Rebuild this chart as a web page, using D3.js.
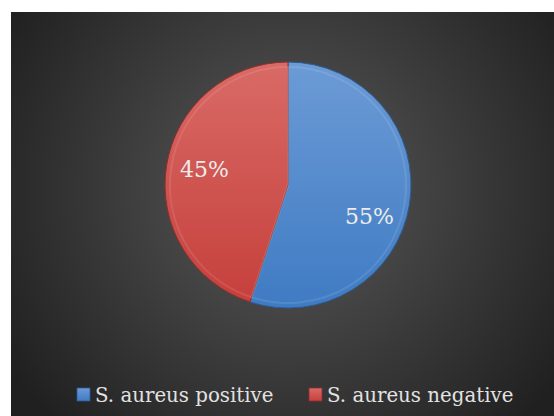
<!DOCTYPE html>
<html><head><meta charset="utf-8">
<script src="https://cdn.jsdelivr.net/npm/d3@7"></script>
<style>html,body{margin:0;padding:0;background:#fff;}svg{display:block;}</style>
</head><body>
<script>
const categories = ["S. aureus positive", "S. aureus negative"];
const values = [55, 45];
const labels = ["55%", "45%"];

const W = 554, H = 416;
const svg = d3.select("body").append("svg").attr("width", W).attr("height", H);
const defs = svg.append("defs");

const bg = defs.append("radialGradient").attr("id","bg").attr("gradientUnits","userSpaceOnUse")
  .attr("cx", 288).attr("cy", 190).attr("r", 330);
bg.append("stop").attr("offset","0%").attr("stop-color","#5a5a5a");
bg.append("stop").attr("offset","100%").attr("stop-color","#202020");

svg.append("rect").attr("x",11).attr("y",12).attr("width",W-11).attr("height",H-12).attr("fill","url(#bg)");

const cx = 288, cy = 185, R = 123;
const fills = [["#6c9bd6","#3f7bc3"],["#d96a66","#c6403c"]];
fills.forEach((f,i)=>{
  const g = defs.append("linearGradient").attr("id","g"+i).attr("x1",0).attr("y1",0).attr("x2",0).attr("y2",1);
  g.append("stop").attr("offset","0%").attr("stop-color",f[0]);
  g.append("stop").attr("offset","100%").attr("stop-color",f[1]);
});
const edges = ["#2d5b93","#8e2e2b"];

const pie = d3.pie().sort(null).value(d=>d)(values);
const arc = d3.arc().innerRadius(0).outerRadius(R);
const inner = d3.arc().innerRadius(0).outerRadius(R-5);
const labelArc = d3.arc().innerRadius(R*0.72).outerRadius(R*0.72);
const nudge = [[-6,18],[4,-2]];

const gp = svg.append("g").attr("transform",`translate(${cx},${cy})`);
gp.selectAll("path.s").data(pie).enter().append("path")
  .attr("d", arc).attr("fill",(d,i)=>`url(#g${i})`)
  .attr("stroke",(d,i)=>edges[i]).attr("stroke-width",1);
gp.selectAll("path.b").data(pie).enter().append("path")
  .attr("d", inner).attr("fill","none")
  .attr("stroke","rgba(255,255,255,0.10)").attr("stroke-width",2);

gp.selectAll("text").data(pie).enter().append("text")
  .attr("transform",(d,i)=>{const c=labelArc.centroid(d);return `translate(${c[0]+nudge[i][0]},${c[1]+nudge[i][1]})`;})
  .attr("text-anchor","middle").attr("dominant-baseline","central")
  .attr("font-family","DejaVu Serif, serif").attr("font-size",22)
  .attr("fill","#ececec").text((d,i)=>labels[i]);

const legend = svg.append("g");
const lx = [77, 309];
categories.forEach((c,i)=>{
  const g = legend.append("g").attr("transform",`translate(${lx[i]},388)`);
  g.append("rect").attr("width",13).attr("height",13).attr("fill",`url(#g${i})`)
    .attr("stroke",edges[i]).attr("stroke-width",0.8);
  g.append("text").attr("x",18).attr("y",14).attr("font-family","DejaVu Serif, serif")
    .attr("font-size",19.8).attr("fill","#e2e2e2").text(c);
});
</script>
</body></html>
